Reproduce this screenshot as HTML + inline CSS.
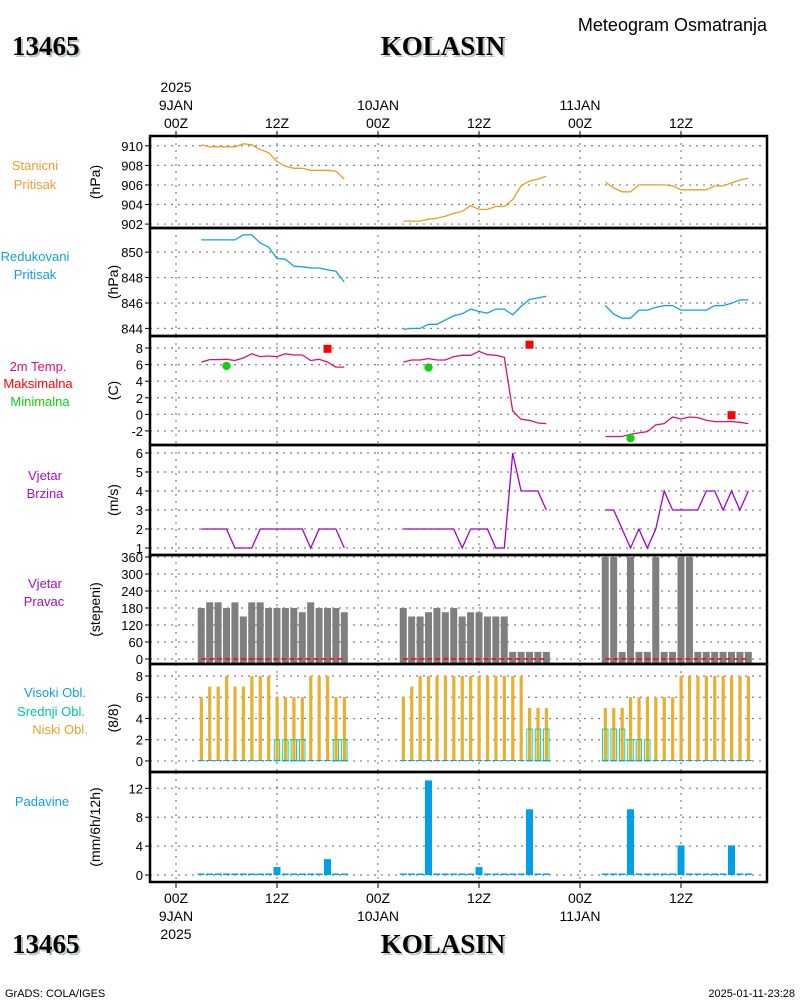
<!DOCTYPE html>
<html><head><meta charset="utf-8">
<style>
html,body{margin:0;padding:0;background:#fff;}
svg{display:block;font-family:"Liberation Sans",sans-serif;}
</style></head>
<body>
<svg id="chart" width="800" height="1000" viewBox="0 0 800 1000" xmlns="http://www.w3.org/2000/svg">
  <g>
    <text x="14" y="57" font-family="Liberation Serif" font-weight="bold" font-size="27" fill="#b8c8b8">13465</text>
    <text x="12" y="55" font-family="Liberation Serif" font-weight="bold" font-size="27" fill="#000">13465</text>
    <text x="445" y="57" text-anchor="middle" font-family="Liberation Serif" font-weight="bold" font-size="27" fill="#b8c8b8">KOLASIN</text>
    <text x="443" y="55" text-anchor="middle" font-family="Liberation Serif" font-weight="bold" font-size="27" fill="#000">KOLASIN</text>
    <text x="767" y="31" text-anchor="end" font-size="18" fill="#000">Meteogram Osmatranja</text>
  </g>
  <g>
    <text x="14" y="955" font-family="Liberation Serif" font-weight="bold" font-size="27" fill="#b8c8b8">13465</text>
    <text x="12" y="953" font-family="Liberation Serif" font-weight="bold" font-size="27" fill="#000">13465</text>
    <text x="445" y="955" text-anchor="middle" font-family="Liberation Serif" font-weight="bold" font-size="27" fill="#b8c8b8">KOLASIN</text>
    <text x="443" y="953" text-anchor="middle" font-family="Liberation Serif" font-weight="bold" font-size="27" fill="#000">KOLASIN</text>
    <text x="5" y="997" font-size="11" fill="#000">GrADS: COLA/IGES</text>
    <text x="795" y="997" text-anchor="end" font-size="11" fill="#000">2025-01-11-23:28</text>
  </g>
  <g id="plots"></g>
</svg>
<script>
// ---- data (hours 03Z..20Z each day) ----
const days = [0, 1, 2];
const hours = [3,4,5,6,7,8,9,10,11,12,13,14,15,16,17,18,19,20];
const xTickHours = [0, 12, 24, 36, 48, 60];
const xTickLabels = ["00Z","12Z","00Z","12Z","00Z","12Z"];
const dateLabels = ["9JAN","10JAN","11JAN"];
const yearLabel = "2025";

const stationPressure = [
 [910.1,909.9,909.9,909.9,909.9,910.2,910.1,909.6,909.3,908.4,907.9,907.7,907.7,907.5,907.5,907.5,907.4,906.6],
 [902.3,902.3,902.3,902.5,902.6,902.8,903.1,903.3,903.9,903.5,903.5,903.8,903.8,904.5,905.9,906.4,906.6,906.9],
 [906.3,905.7,905.3,905.3,906.0,906.0,906.0,906.0,905.9,905.5,905.5,905.5,905.5,905.9,905.9,906.2,906.5,906.7]];
const reducedPressure = [
 [850.96,850.96,850.96,850.96,850.96,851.36,851.36,850.72,850.4,849.5,849.44,848.9,848.85,848.75,848.75,848.6,848.5,847.65],
 [843.92,844.0,844.0,844.32,844.32,844.67,844.99,845.15,845.52,845.33,845.2,845.52,845.52,845.07,845.73,846.27,846.4,846.53],
 [845.79,845.12,844.8,844.8,845.44,845.44,845.65,845.79,845.79,845.44,845.44,845.44,845.44,845.79,845.79,845.97,846.24,846.24]];
const temperature = [
 [6.3,6.6,6.6,6.64,6.5,6.8,7.3,6.96,7.04,6.96,7.3,7.16,7.16,6.5,6.64,6.3,5.7,5.7],
 [6.3,6.56,6.56,6.72,6.56,6.56,6.96,7.12,7.12,7.6,7.2,7.12,6.88,0.4,-0.6,-0.72,-1.04,-1.12],
 [-2.68,-2.68,-2.68,-2.4,-2.24,-2.08,-1.28,-1.12,-0.32,-0.56,-0.32,-0.4,-0.72,-0.88,-0.88,-0.88,-0.96,-1.12]];
const maxTemp = [7.9, 8.4, -0.1];
const maxTempHour = [18, 18, 18];
const minTemp = [5.84, 5.64, -2.88];
const minTempHour = [6, 6, 6];
const windSpeed = [
 [2,2,2,2,1,1,1,2,2,2,2,2,2,1,2,2,2,1],
 [2,2,2,2,2,2,2,1,2,2,2,1,1,6,4,4,4,3],
 [3,3,2,1,2,1,2,4,3,3,3,3,4,4,3,4,3,4]];
const windDir = [
 [180,200,200,180,200,150,200,200,180,180,180,180,165,200,180,180,180,165],
 [180,150,150,165,180,165,180,150,165,165,150,150,150,25,25,25,25,25],
 [360,360,25,360,25,25,360,25,25,360,360,25,25,25,25,25,25,25]];
const lowCloud = [
 [6,7,7,8,7,7,8,8,8,6,6,6,6,8,8,8,6,6],
 [6,7,8,8,8,8,8,8,8,8,8,8,8,8,8,5,5,5],
 [5,5,5,6,6,6,6,6,6,8,8,8,8,8,8,8,8,8]];
const midCloud = [
 [0,0,0,0,0,0,0,0,0,2,2,2,2,0,0,0,2,2],
 [0,0,0,0,0,0,0,0,0,0,0,0,0,0,0,3,3,3],
 [3,3,3,2,2,2,0,0,0,0,0,0,0,0,0,0,0,0]];
const highCloud = [
 [0,0,0,0,0,0,0,0,0,0,0,0,0,0,0,0,0,0],
 [0,0,0,0,0,0,0,0,0,0,0,0,0,0,0,0,0,0],
 [0,0,0,0,0,0,0,0,0,0,0,0,0,0,0,0,0,0]];
const precip = [
 [0,0,0,0,0,0,0,0,0,1.1,0,0,0,0,0,2.2,0,0],
 [0,0,0,13.1,0,0,0,0,0,1.1,0,0,0,0,0,9.1,0,0],
 [0,0,0,9.1,0,0,0,0,0,4.1,0,0,0,0,0,4.1,0,0]];

// ---- layout ----
const NS = "http://www.w3.org/2000/svg";
const root = document.getElementById('plots');
const X0 = 150, X1 = 767;
function xScale(h){ return 176 + h * 101 / 12; }
function mk(tag, attrs, parent){
  const e = document.createElementNS(NS, tag);
  for (const k in attrs) e.setAttribute(k, attrs[k]);
  (parent || root).appendChild(e);
  return e;
}
function txt(s, attrs, parent){ const e = mk('text', attrs, parent); e.textContent = s; return e; }

const panels = [
 {name:'station-pressure', top:136, bot:228, vmin:901.6, vmax:911.0, ticks:[902,904,906,908,910], unit:'(hPa)', ux:95,
  labels:[['Stanicni',35,170,'#e8a030'],['Pritisak',35,189,'#e8a030']]},
 {name:'reduced-pressure', top:228, bot:336, vmin:843.4, vmax:851.9, ticks:[844,846,848,850], unit:'(hPa)', ux:113,
  labels:[['Redukovani',35,261,'#10a0e0'],['Pritisak',35,279,'#10a0e0']]},
 {name:'temperature', top:336, bot:445, vmin:-3.7, vmax:9.45, ticks:[-2,0,2,4,6,8], unit:'(C)', ux:113,
  labels:[['2m Temp.',38,371,'#e0106a'],['Maksimalna',38,388,'#ff0000'],['Minimalna',40,406,'#10d010']]},
 {name:'wind-speed', top:445, bot:555, vmin:0.63, vmax:6.42, ticks:[1,2,3,4,5,6], unit:'(m/s)', ux:113,
  labels:[['Vjetar',45,480,'#a010c0'],['Brzina',45,498,'#a010c0']]},
 {name:'wind-direction', top:555, bot:664, vmin:-17.7, vmax:367, ticks:[0,60,120,180,240,300,360], unit:'(stepeni)', ux:95,
  labels:[['Vjetar',45,588,'#a010c0'],['Pravac',44,606,'#a010c0']]},
 {name:'cloud-cover', top:664, bot:772, vmin:-1.04, vmax:9.13, ticks:[0,2,4,6,8], unit:'(8/8)', ux:113,
  labels:[['Visoki Obl.',55,697,'#10a0e0'],['Srednji Obl.',51,716,'#00c890'],['Niski Obl.',60,734,'#e8a030']]},
 {name:'precipitation', top:772, bot:882, vmin:-0.97, vmax:14.26, ticks:[0,4,8,12], unit:'(mm/6h/12h)', ux:95,
  labels:[['Padavine',42,806,'#10a0e0']]}
];
panels.forEach(p => { p.y = v => p.bot - (v - p.vmin) / (p.vmax - p.vmin) * (p.bot - p.top); });

// grids, ticks, labels
panels.forEach(p => {
  const g = mk('g', {});
  
  
  xTickHours.forEach(h => {
    const l = mk('line', {x1:xScale(h), x2:xScale(h), y1:p.top, y2:p.bot, stroke:'#808080', 'stroke-width':1.2, 'stroke-dasharray':'2,5'}, g);
    
    
  });
  p.ticks.forEach(t => {
    const y = p.y(t);
    const l = mk('line', {x1:X0, x2:X1, y1:y, y2:y, stroke:'#808080', 'stroke-width':1.2, 'stroke-dasharray':'2,5'}, g);
    
    
    const tk = mk('line', {x1:X0-5, x2:X0, y1:y, y2:y, stroke:'#000', 'stroke-width':1}, g);
    
    
    const tl = txt(String(t), {x:X0-7, y:y+5, 'text-anchor':'end', 'font-size':13, fill:'#000'}, g);
    
    
  });
  const cy = (p.top + p.bot) / 2;
  const ut = txt(p.unit, {x:p.ux, y:cy, 'text-anchor':'middle', 'font-size':14, fill:'#000', transform:`rotate(-90 ${p.ux} ${cy})`, dy:5}, g);
  
  
  p.labels.forEach(L => {
    const t = txt(L[0], {x:L[1], y:L[2], 'text-anchor':'middle', 'font-size':13, fill:L[3]}, g);
    
    
  });
  p.g = g;
});

function linePlot(p, data, color, name){
  days.forEach(d => {
    const pts = data[d].map((v,i) => xScale(24*d + hours[i]).toFixed(1) + ',' + p.y(v).toFixed(1)).join(' ');
    const pl = mk('polyline', {points:pts, fill:'none', stroke:color, 'stroke-width':1.3}, p.g);
    
    
  });
}
linePlot(panels[0], stationPressure, '#e8a020', 'station-pressure-line');
linePlot(panels[1], reducedPressure, '#10a0e0', 'reduced-pressure-line');
linePlot(panels[2], temperature, '#e0106a', 'temperature-line');
linePlot(panels[3], windSpeed, '#a000d0', 'wind-speed-line');

// max / min markers
days.forEach(d => {
  const p = panels[2];
  const mx = xScale(24*d + maxTempHour[d]);
  const r = mk('rect', {x:mx-4, y:p.y(maxTemp[d])-4, width:8, height:8, fill:'#ff0000'}, p.g);
  
  
  const nx = xScale(24*d + minTempHour[d]);
  const c = mk('circle', {cx:nx, cy:p.y(minTemp[d]), r:4.2, fill:'#10d010'}, p.g);
  
  
});

// wind direction bars
days.forEach(d => {
  const p = panels[4];
  windDir[d].forEach((v,i) => {
    const x = xScale(24*d + hours[i]);
    const b = mk('rect', {x:x-3.5, y:p.y(v), width:7, height:p.y(0)-p.y(v)+4, fill:'#7f7f7f'}, p.g);
    
    
  });
  const l = mk('line', {x1:xScale(24*d+hours[0]), x2:xScale(24*d+hours[hours.length-1]), y1:p.y(0), y2:p.y(0), stroke:'#ff0000', 'stroke-width':1.5, 'stroke-dasharray':'5,3'}, p.g);
  
  
});

// clouds
days.forEach(d => {
  const p = panels[5];
  const y0 = p.y(0);
  lowCloud[d].forEach((v,i) => {
    const x = xScale(24*d + hours[i]);
    const b = mk('rect', {x:x-1.5, y:p.y(v), width:3.2, height:y0-p.y(v), fill:'#e8b030'}, p.g);
    
    
    const m = midCloud[d][i];
    if (m > 0) {
      const mb = mk('rect', {x:x-2.7, y:p.y(m), width:5.4, height:y0-p.y(m), fill:'none', stroke:'#00d090', 'stroke-width':0.9}, p.g);
      
      
    }
    const hv = highCloud[d][i];
    const hb = mk('rect', {x:x-3.5, y:p.y(hv)-1, width:7, height:y0-p.y(hv)+1, fill:'#10a0e0'}, p.g);
    
    
  });
});

// precipitation
days.forEach(d => {
  const p = panels[6];
  const y0 = p.y(0);
  precip[d].forEach((v,i) => {
    const x = xScale(24*d + hours[i]);
    const h = Math.max(y0 - p.y(v), 1.5);
    const b = mk('rect', {x:x-3.5, y:y0-h, width:7, height:h, fill:'#00a0e8'}, p.g);
    
    
  });
});

// frames
panels.forEach(p => {
  const r = mk('rect', {x:X0, y:p.top, width:X1-X0, height:p.bot-p.top, fill:'none', stroke:'#000', 'stroke-width':2.5}, p.g);
  
  
});

// time axes top & bottom
const ax = mk('g', {});


xTickHours.forEach((h,k) => {
  const x = xScale(h);
  const t1 = mk('line', {x1:x, x2:x, y1:131, y2:136, stroke:'#000', 'stroke-width':1}, ax);
  
  
  const t2 = mk('line', {x1:x, x2:x, y1:882, y2:888, stroke:'#000', 'stroke-width':1}, ax);
  
  
  const a = txt(xTickLabels[k], {x:x, y:128, 'text-anchor':'middle', 'font-size':14, fill:'#000'}, ax);
  
  
  const b = txt(xTickLabels[k], {x:x, y:903, 'text-anchor':'middle', 'font-size':14, fill:'#000'}, ax);
  
  
});
days.forEach(d => {
  const x = xScale(24*d);
  const a = txt(dateLabels[d], {x:x, y:110, 'text-anchor':'middle', 'font-size':14, fill:'#000'}, ax);
  
  
  const b = txt(dateLabels[d], {x:x, y:921, 'text-anchor':'middle', 'font-size':14, fill:'#000'}, ax);
  
  
});
const y1t = txt(yearLabel, {x:xScale(0), y:92, 'text-anchor':'middle', 'font-size':14, fill:'#000'}, ax);


const y2t = txt(yearLabel, {x:xScale(0), y:939, 'text-anchor':'middle', 'font-size':14, fill:'#000'}, ax);


</script>
</body></html>
